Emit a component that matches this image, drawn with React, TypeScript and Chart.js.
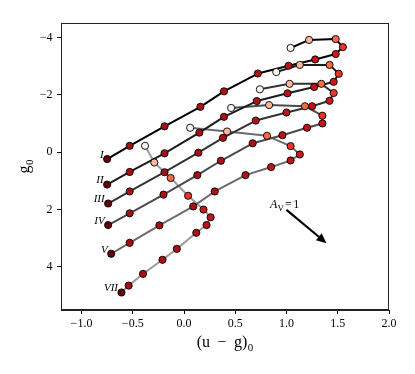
import React, { useEffect, useRef } from 'react';
import { Chart, registerables } from 'chart.js';

Chart.register(...registerables);

// ---- data -------------------------------------------------------------
const TRACK_LABELS = ['I', 'II', 'III', 'IV', 'V', 'VII'];

const TRACK_I_X = [-0.75, -0.53, -0.19, 0.16, 0.39, 0.72, 1.02, 1.28, 1.48, 1.55, 1.48, 1.22, 1.04];
const TRACK_I_Y = [0.24, -0.22, -0.9, -1.58, -2.12, -2.74, -3.01, -3.23, -3.42, -3.66, -3.94, -3.91, -3.63];

const TRACK_II_X = [-0.75, -0.53, -0.19, 0.15, 0.39, 0.71, 1.01, 1.27, 1.46, 1.51, 1.42, 1.13, 0.9];
const TRACK_II_Y = [1.13, 0.69, 0.04, -0.68, -1.23, -1.78, -2.05, -2.27, -2.45, -2.73, -3.04, -3.04, -2.79];

const TRACK_III_X = [-0.74, -0.53, -0.19, 0.14, 0.38, 0.7, 1.0, 1.25, 1.42, 1.46, 1.34, 1.03, 0.74];
const TRACK_III_Y = [1.79, 1.37, 0.7, 0.02, -0.5, -1.1, -1.38, -1.6, -1.79, -2.06, -2.38, -2.38, -2.19];

const TRACK_IV_X = [-0.74, -0.53, -0.2, 0.13, 0.36, 0.67, 0.96, 1.2, 1.35, 1.35, 1.18, 0.83, 0.46];
const TRACK_IV_Y = [2.54, 2.13, 1.48, 0.8, 0.3, -0.31, -0.59, -0.85, -1.0, -1.27, -1.6, -1.64, -1.54];

const TRACK_V_X = [-0.71, -0.53, -0.24, 0.09, 0.3, 0.6, 0.85, 1.04, 1.13, 1.04, 0.81, 0.42, 0.06];
const TRACK_V_Y = [3.54, 3.16, 2.55, 1.89, 1.37, 0.8, 0.52, 0.29, 0.08, -0.21, -0.57, -0.72, -0.85];

const TRACK_VII_X = [-0.61, -0.54, -0.4, -0.21, -0.07, 0.12, 0.22, 0.26, 0.19, 0.04, -0.13, -0.29, -0.38];
const TRACK_VII_Y = [4.89, 4.65, 4.24, 3.75, 3.37, 2.81, 2.54, 2.27, 2.0, 1.52, 0.9, 0.36, -0.22];

const TRACKS_X = [TRACK_I_X, TRACK_II_X, TRACK_III_X, TRACK_IV_X, TRACK_V_X, TRACK_VII_X];
const TRACKS_Y = [TRACK_I_Y, TRACK_II_Y, TRACK_III_Y, TRACK_IV_Y, TRACK_V_Y, TRACK_VII_Y];

const X_TICKS = [-1.0, -0.5, 0.0, 0.5, 1.0, 1.5, 2.0];
const Y_TICKS = [-4, -2, 0, 2, 4];
const X_RANGE = [-1.2, 2.0];
const Y_RANGE = [-4.5, 5.5];

// extinction vector annotation (data units)
const ARROW_FROM = [1.0, 2.01];
const ARROW_TO = [1.39, 3.17];
const AV_LABEL_AT = [0.84, 1.96];

// ---- styles -----------------------------------------------------------
const AGE_COLORS = [
  '#67000d', '#a50f15', '#a50f15', '#a91016', '#ad1117', '#b11218', '#b81419',
  '#bc141a', '#cb181d', '#e83429', '#f86a4a', '#fcb69b', '#fff5f0',
];
const LINE_GRAYS = ['#000000', '#1c1c1c', '#333333', '#4a4a4a', '#6b6b6b', '#9c9c9c'];
const SERIF = '"Liberation Serif", "DejaVu Serif", serif';

const fmtMinus = (s: string) => s.replace('-', '\u2212');

const decorPlugin = {
  id: 'decor',
  afterDatasetsDraw(chart: any) {
    const { ctx, scales, chartArea } = chart;
    const xs = scales.x;
    const ys = scales.y;
    ctx.save();
    // track labels
    ctx.fillStyle = '#000';
    ctx.font = `italic 11px ${SERIF}`;
    ctx.textAlign = 'right';
    ctx.textBaseline = 'middle';
    TRACK_LABELS.forEach((lab, i) => {
      const px = xs.getPixelForValue(TRACKS_X[i][0]);
      const py = ys.getPixelForValue(TRACKS_Y[i][0]);
      ctx.fillText(lab, px - 3.5, py - 4);
    });

    // arrow
    const x0 = xs.getPixelForValue(ARROW_FROM[0]);
    const y0 = ys.getPixelForValue(ARROW_FROM[1]);
    const x1 = xs.getPixelForValue(ARROW_TO[0]);
    const y1 = ys.getPixelForValue(ARROW_TO[1]);
    const ang = Math.atan2(y1 - y0, x1 - x0);
    const headL = 10;
    const headW = 4.5;
    const bx = x1 - headL * Math.cos(ang);
    const by = y1 - headL * Math.sin(ang);
    ctx.strokeStyle = '#000';
    ctx.lineWidth = 2.2;
    ctx.beginPath();
    ctx.moveTo(x0, y0);
    ctx.lineTo(bx, by);
    ctx.stroke();
    ctx.beginPath();
    ctx.moveTo(x1, y1);
    ctx.lineTo(bx + headW * Math.sin(ang), by - headW * Math.cos(ang));
    ctx.lineTo(bx - headW * Math.sin(ang), by + headW * Math.cos(ang));
    ctx.closePath();
    ctx.fill();

    // A_V = 1 label
    const tx = xs.getPixelForValue(AV_LABEL_AT[0]);
    const ty = ys.getPixelForValue(AV_LABEL_AT[1]);
    ctx.textAlign = 'left';
    ctx.textBaseline = 'alphabetic';
    ctx.font = `italic 12px ${SERIF}`;
    ctx.fillText('A', tx, ty);
    let cx = tx + ctx.measureText('A').width;
    ctx.font = `9px ${SERIF}`;
    ctx.fillText('V', cx, ty + 2.5);
    cx += ctx.measureText('V').width + 1;
    ctx.font = `12px ${SERIF}`;
    ctx.fillText('=', cx, ty);
    cx += ctx.measureText('=').width + 1.5;
    ctx.fillText('1', cx, ty);

    ctx.restore();
  },
  afterDraw(chart: any) {
    const { ctx, chartArea } = chart;
    const { left, right, top, bottom } = chartArea;
    ctx.save();
    // frame
    ctx.strokeStyle = '#222';
    ctx.lineWidth = 1;
    ctx.strokeRect(Math.round(left) + 0.5, Math.round(top) + 0.5, Math.round(right - left) - 1, Math.round(bottom - top) - 1);

    ctx.fillStyle = '#000';
    ctx.textBaseline = 'alphabetic';
    ctx.textAlign = 'left';
    // x title: (u − g)0
    const mainFont = `16px ${SERIF}`;
    const subFont = `11px ${SERIF}`;
    ctx.font = mainFont;
    const p1 = '(u';
    const p2 = '\u2212';
    const p3 = 'g)';
    const gap = 7.5;
    const w1 = ctx.measureText(p1).width;
    const w2 = ctx.measureText(p2).width;
    const w3 = ctx.measureText(p3).width;
    ctx.font = subFont;
    const w4 = ctx.measureText('0').width;
    const total = w1 + gap + w2 + gap + w3 + 0.5 + w4;
    let sx = (left + right) / 2 - total / 2;
    const baseY = 347;
    ctx.font = mainFont;
    ctx.fillText(p1, sx, baseY);
    sx += w1 + gap;
    ctx.fillText(p2, sx, baseY);
    sx += w2 + gap;
    ctx.fillText(p3, sx, baseY);
    sx += w3 + 0.5;
    ctx.font = subFont;
    ctx.fillText('0', sx, baseY + 3.5);

    // y title: g0 (rotated)
    ctx.font = mainFont;
    const gw = ctx.measureText('g').width;
    ctx.font = subFont;
    const zw = ctx.measureText('0').width;
    const ytotal = gw + 0.5 + zw;
    ctx.translate(29, (top + bottom) / 2 + ytotal / 2);
    ctx.rotate(-Math.PI / 2);
    ctx.font = mainFont;
    ctx.fillText('g', 0, 0);
    ctx.font = subFont;
    ctx.fillText('0', gw + 0.5, 3.5);
    ctx.restore();
  },
};

export default function App() {
  const ref = useRef<HTMLCanvasElement | null>(null);

  useEffect(() => {
    if (!ref.current) return;
    const lineSets = TRACKS_X.map((xsArr, i) => ({
      label: TRACK_LABELS[i] + ' line',
      data: xsArr.map((x, j) => ({ x, y: TRACKS_Y[i][j] })),
      showLine: true,
      borderColor: LINE_GRAYS[i],
      borderWidth: 2,
      borderJoinStyle: 'round' as const,
      pointRadius: 0,
      order: 2,
    }));
    const pointSets = TRACKS_X.map((xsArr, i) => ({
      label: TRACK_LABELS[i],
      data: xsArr.map((x, j) => ({ x, y: TRACKS_Y[i][j] })),
      showLine: false,
      pointRadius: 3.6,
      pointBackgroundColor: AGE_COLORS,
      pointBorderColor: '#000',
      pointBorderWidth: 0.9,
      order: 1,
    }));

    const chart = new Chart(ref.current, {
      type: 'scatter',
      data: { datasets: [...lineSets, ...pointSets] },
      options: {
        animation: false,
        responsive: false,
        devicePixelRatio: 1,
        events: [],
        layout: { padding: { top: 23, right: 26, left: 0, bottom: 0 } },
        plugins: { legend: { display: false }, tooltip: { enabled: false }, title: { display: false } },
        scales: {
          x: {
            type: 'linear',
            min: X_RANGE[0],
            max: X_RANGE[1],
            afterBuildTicks: (scale: any) => {
              scale.ticks = X_TICKS.map((v) => ({ value: v }));
            },
            afterFit: (scale: any) => {
              scale.height = 64;
            },
            grid: { drawOnChartArea: false, drawTicks: true, tickLength: 4, color: '#000', tickWidth: 1 },
            border: { display: true, color: '#222', width: 1 },
            ticks: {
              color: '#000',
              padding: 2.5,
              maxRotation: 0,
              font: { family: SERIF, size: 12 },
              callback: (v: any) => fmtMinus(Number(v).toFixed(1)),
            },
            title: { display: false },
          },
          y: {
            type: 'linear',
            reverse: true,
            min: Y_RANGE[0],
            max: Y_RANGE[1],
            afterBuildTicks: (scale: any) => {
              scale.ticks = Y_TICKS.map((v) => ({ value: v }));
            },
            afterFit: (scale: any) => {
              scale.width = 61;
            },
            grid: { drawOnChartArea: false, drawTicks: true, tickLength: 4, color: '#000', tickWidth: 1 },
            border: { display: true, color: '#222', width: 1 },
            ticks: {
              color: '#000',
              padding: 4.5,
              font: { family: SERIF, size: 12 },
              callback: (v: any) => fmtMinus(String(v)),
            },
            title: { display: false },
          },
        },
      } as any,
      plugins: [decorPlugin],
    });
    return () => chart.destroy();
  }, []);

  return (
    <div style={{ position: 'absolute', left: 0, top: 0, width: 415, height: 374, background: '#fff' }}>
      <canvas ref={ref} width={415} height={374} style={{ width: 415, height: 374, display: 'block' }} />
    </div>
  );
}
